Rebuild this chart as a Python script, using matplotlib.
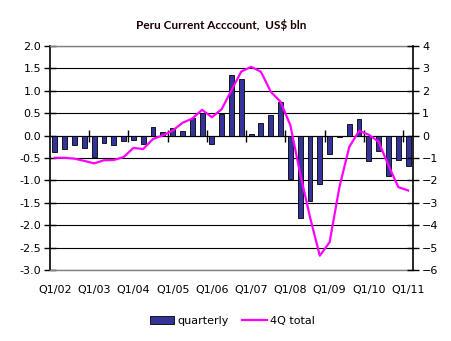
import numpy as np
import matplotlib.pyplot as plt

# quarterly current account, US$ bln, Q1/02 .. Q1/11
quarterly = [-0.36, -0.29, -0.22, -0.27, -0.48, -0.16, -0.22, -0.11, -0.09, -0.19,
             0.20, 0.07, 0.16, 0.11, 0.39, 0.50, -0.18, 0.48, 1.35, 1.26,
             0.03, 0.28, 0.45, 0.75, -0.96, -1.84, -1.46, -1.07, -0.40, -0.03,
             0.25, 0.38, -0.56, -0.34, -0.90, -0.54, -0.67]
# rolling 4-quarter total (right axis)
total4q = [-0.99, -0.99, -1.03, -1.13, -1.24, -1.10, -1.09, -0.96, -0.55, -0.60,
           -0.15, 0.01, 0.22, 0.57, 0.76, 1.15, 0.82, 1.18, 2.03, 2.86,
           3.07, 2.85, 1.96, 1.51, 0.46, -1.70, -3.64, -5.36, -4.76, -2.30,
           -0.51, 0.21, 0.04, -0.28, -1.33, -2.30, -2.45]
year_labels = ['Q1/02', 'Q1/03', 'Q1/04', 'Q1/05', 'Q1/06', 'Q1/07',
               'Q1/08', 'Q1/09', 'Q1/10', 'Q1/11']

x = np.arange(len(quarterly))

fig = plt.figure(figsize=(4.51, 3.41), dpi=100)
ax = fig.add_axes([50 / 451, 1 - 270 / 341, 363 / 451, 224 / 341])

ax.bar(x, quarterly, width=0.5, color='#333399', edgecolor='black', linewidth=0.6,
       label='quarterly', zorder=2)
ax.set_xlim(-0.5, len(x) - 0.5)
ax.set_ylim(-3.0, 2.0)
ax.set_yticks(np.arange(-3.0, 2.01, 0.5))
ax.set_yticklabels(['%.1f' % v for v in np.arange(-3.0, 2.01, 0.5)])
ax.set_axisbelow(True)
ax.yaxis.grid(True, color='black', linewidth=0.8)
ax.tick_params(axis='y', direction='inout', length=9, width=1, labelsize=8, pad=2)

# labels at the bottom, one per year
ax.set_xticks(x[::4])
ax.set_xticklabels(year_labels)
ax.tick_params(axis='x', length=0, labelsize=8, pad=11)

ax.spines['left'].set_color('black')
ax.spines['left'].set_linewidth(1.2)
ax.spines['right'].set_visible(False)
for s in ['top', 'bottom']:
    ax.spines[s].set_color('#808080')
    ax.spines[s].set_linewidth(1)

# category axis crossing at zero with tick marks between years
sec = ax.secondary_xaxis(0.6)
sec.set_xticks(np.arange(3.5, len(x) - 1, 4))
sec.set_xticklabels([])
sec.tick_params(axis='x', direction='inout', length=9, width=1,
                labelbottom=False, labeltop=False)
sec.spines['bottom'].set_visible(False)

ax2 = ax.twinx()
ax2.plot(x, total4q, color='#FF00FF', linewidth=1.6, label='4Q total')
ax2.set_ylim(-6, 4)
ax2.set_yticks(np.arange(-6, 5, 1))
ax2.tick_params(axis='y', direction='inout', length=9, width=1, labelsize=8, pad=2)
for s in ['top', 'bottom', 'left']:
    ax2.spines[s].set_visible(False)
ax2.spines['right'].set_linewidth(1.2)

fig.text(0.49, 0.927, 'Peru Current Acccount,  US$ bln', ha='center', va='center',
         fontsize=8.5, fontweight='bold', family='Lato', color='#1a0000')

h1, l1 = ax.get_legend_handles_labels()
h2, l2 = ax2.get_legend_handles_labels()
fig.legend(h1 + h2, l1 + l2, loc='center', bbox_to_anchor=(0.515, 0.059), ncol=2,
           frameon=False, fontsize=8, handlelength=2.2, handletextpad=0.3,
           columnspacing=1.2)

fig.savefig('out.png', dpi=100)
